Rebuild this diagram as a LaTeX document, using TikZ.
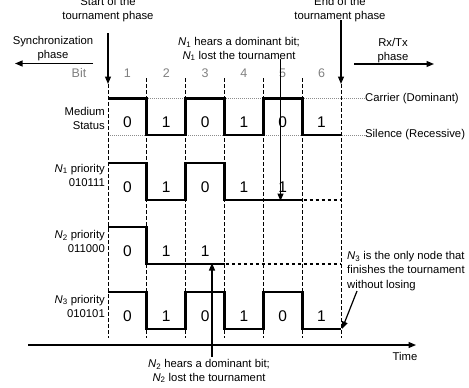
\documentclass[tikz,border=0pt]{standalone}
\usepackage{fontspec}
\setmainfont{Liberation Sans}
\usetikzlibrary{arrows.meta}
\begin{document}
\begin{tikzpicture}[x=1pt,y=-1pt,
  txt/.style={font=\fontsize{11.3}{13.8}\selectfont, inner sep=0pt, align=center},
  lab/.style={font=\fontsize{11.3}{14}\selectfont, inner sep=0pt, align=right, anchor=east},
  bitval/.style={font=\fontsize{15.5}{15.5}\selectfont, inner sep=0pt},
  bitnum/.style={font=\fontsize{12.5}{12.5}\selectfont, text=black!50, inner sep=0pt},
  wave/.style={line width=2.8pt, line join=miter},
  tail/.style={line width=2.8pt, dash pattern=on 3pt off 3pt},
  guide/.style={line width=0.8pt, dash pattern=on 3.5pt off 2.5pt},
  level/.style={black!45, line width=0.6pt, dash pattern=on 1pt off 1pt},
  arr/.style={line width=1.2pt, -{Triangle[length=7.5pt,width=6pt]}}]
\useasboundingbox (0,0) rectangle (469,388);

% level lines
\node[txt, anchor=west] (carrier) at (365,98.5) {Carrier (Dominant)};
\node[txt, anchor=west] (silence) at (365,135) {Silence (Recessive)};
\draw[level] (108,98.5) -- (carrier.west);
\draw[level] (108,135) -- (silence.west);

% guide lines
\foreach \x in {146.8,185.7,224.5,263.3,302.2} \draw[guide] (\x,78) -- (\x,338);
\draw[guide] (108,84) -- (108,338);
\draw[guide] (341,84) -- (341,338);

% waveforms
\draw[wave] (108,98.5) -- (146.8,98.5) -- (146.8,135) -- (185.7,135) -- (185.7,98.5) -- (224.5,98.5) -- (224.5,135) -- (263.3,135) -- (263.3,98.5) -- (302.2,98.5) -- (302.2,135) -- (341,135);
\draw[wave] (108,163) -- (146.8,163) -- (146.8,200) -- (185.7,200) -- (185.7,163) -- (224.5,163) -- (224.5,200) -- (302.2,200);
\draw[tail] (303.5,200) -- (340,200);
\draw[wave] (108,227) -- (146.8,227) -- (146.8,264) -- (224.5,264);
\draw[tail] (225.8,264) -- (340,264);
\draw[wave] (108,292) -- (146.8,292) -- (146.8,329) -- (185.7,329) -- (185.7,292) -- (224.5,292) -- (224.5,329) -- (263.3,329) -- (263.3,292) -- (302.2,292) -- (302.2,329) -- (341,329);

% bit values
\foreach \v [count=\i from 0] in {0,1,0,1,0,1}
  \node[bitval] at (127.4+38.83*\i,122.5) {\v};
\foreach \v [count=\i from 0] in {0,1,0,1,1}
  \node[bitval] at (127.4+38.83*\i,187) {\v};
\foreach \v [count=\i from 0] in {0,1,1}
  \node[bitval] at (127.4+38.83*\i,251) {\v};
\foreach \v [count=\i from 0] in {0,1,0,1,0,1}
  \node[bitval] at (127.4+38.83*\i,316) {\v};

% bit numbers
\node[bitnum] (bit) at (79,73) {Bit};
\foreach \i in {1,...,6}
  \node[bitnum] at (127.4+38.83*\i-38.83,73) {\i};

% left labels
\node[lab] (med) at (105,118.5) {Medium\\Status};
\node[lab] (p1) at (105,175) {\textit{N}\textsubscript{1} priority\\010111};
\node[lab] (p2) at (105,241.5) {\textit{N}\textsubscript{2} priority\\011000};
\node[lab] (p3) at (105,306) {\textit{N}\textsubscript{3} priority\\010101};

% phase annotations
\node[txt] (start) at (108,9.5) {Start of the\\tournament phase};
\node[txt] (end) at (340,9.5) {End of the\\tournament phase};
\coordinate (starttip) at (108,84);
\coordinate (endtip) at (341,84);
\draw[arr] (108,33) -- (starttip);
\draw[arr] (341,20) -- (endtip);

\node[txt] (sync) at (53,48.5) {Synchronization\\phase};
\coordinate (syncA) at (93,63.5);
\coordinate (syncB) at (15,63.5);
\draw[arr] (syncA) -- (syncB);
\node[txt] (rxtx) at (393,50.5) {Rx/Tx\\phase};
\coordinate (rxA) at (354,64);
\coordinate (rxB) at (434,64);
\draw[arr] (rxA) -- (rxB);

% N1 annotation
\node[txt] (n1) at (239,49) {\textit{N}\textsubscript{1} hears a dominant bit;\\\textit{N}\textsubscript{1} lost the tournament};
\coordinate (n1tip) at (280.5,201);
\draw[arr] (280.5,59) -- (n1tip);

% N2 annotation
\node[txt] (n2) at (209,371) {\textit{N}\textsubscript{2} hears a dominant bit;\\\textit{N}\textsubscript{2} lost the tournament};
\coordinate (n2tip) at (212,263);
\draw[arr] (212,357) -- (n2tip);

% N3 annotation
\node[txt, align=left, anchor=west, font=\fontsize{11.3}{14.2}\selectfont] (n3) at (347,271) {\textit{N}\textsubscript{3} is the only node that\\finishes the tournament\\without losing};
\coordinate (n3tip) at (342,329);
\draw[arr] (357,291) -- (n3tip);

% time axis
\coordinate (t0) at (28,345);
\coordinate (t1) at (416,345);
\draw[arr] (t0) -- (t1);
\node[txt] (time) at (405,356) {Time};
\end{tikzpicture}
\end{document}
